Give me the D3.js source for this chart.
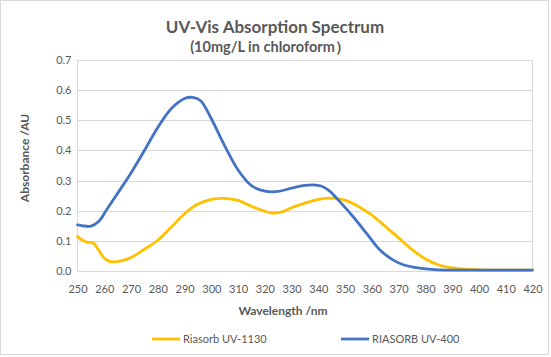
<!DOCTYPE html>
<html><head><meta charset="utf-8">
<script src="https://cdn.jsdelivr.net/npm/d3@7"></script>
<style>body{margin:0;background:#fff}svg{display:block}text{font-family:Lato,"Open Sans",sans-serif;fill:#595959}</style>
</head><body>
<script>
const title = "UV-Vis Absorption Spectrum";
const subtitle = "(10mg/L in chloroform）";
const xTitle = "Wavelength /nm";
const yTitle = "Absorbance /AU";
const xTicks = [250,260,270,280,290,300,310,320,330,340,350,360,370,380,390,400,410,420];
const yTicks = [0,0.1,0.2,0.3,0.4,0.5,0.6,0.7];
const seriesNames = ["Riasorb UV-1130","RIASORB UV-400"];
const seriesColors = ["#FFC000","#4472C4"];

const wlUV1130 = [250,253,256,258,260,262,264,267,270,275,280,285,290,295,300,305,310,315,320,323,326,330,335,340,345,350,355,360,365,370,375,380,385,390,395,400,410,420];
const absUV1130 = [0.114,0.097,0.092,0.068,0.042,0.032,0.030,0.035,0.045,0.072,0.102,0.145,0.19,0.222,0.238,0.241,0.234,0.215,0.198,0.192,0.195,0.21,0.225,0.238,0.242,0.235,0.214,0.185,0.148,0.11,0.071,0.04,0.02,0.01,0.006,0.004,0.003,0.003];

const wlUV400 = [250,252,255,258,261,265,270,275,280,285,290,293,296,300,305,310,315,320,325,330,335,338,341,344,348,353,358,363,368,372,376,380,385,390,400,410,420];
const absUV400 = [0.153,0.150,0.149,0.165,0.205,0.258,0.325,0.40,0.476,0.538,0.572,0.576,0.565,0.505,0.415,0.335,0.283,0.265,0.264,0.275,0.284,0.286,0.282,0.267,0.23,0.18,0.125,0.07,0.036,0.02,0.012,0.007,0.004,0.003,0.003,0.003,0.003];

const W = 551, H = 357;
const svg = d3.select("body").append("svg").attr("width", W).attr("height", H);
svg.append("rect").attr("x",0.5).attr("y",0.5).attr("width",W-3).attr("height",H-3)
  .attr("fill","#fff").attr("stroke","#d9d9d9");

const x = d3.scaleLinear().domain([250,420]).range([77.5,532.5]);
const y = d3.scaleLinear().domain([0,0.7]).range([271,60]);

// gridlines
svg.append("g").selectAll("line").data(yTicks).join("line")
  .attr("x1",x(250)).attr("x2",x(420)).attr("y1",d=>Math.round(y(d))+0.5).attr("y2",d=>Math.round(y(d))+0.5)
  .attr("stroke","#d9d9d9").attr("stroke-width",1);
svg.append("line").attr("x1",x(250)).attr("x2",x(250)).attr("y1",y(0.7)).attr("y2",y(0)+0.5).attr("stroke","#d9d9d9");
svg.append("line").attr("x1",x(420)).attr("x2",x(420)).attr("y1",y(0.7)).attr("y2",y(0)+0.5).attr("stroke","#d9d9d9");

// axes
const xAxis = svg.append("g").attr("transform",`translate(0,${y(0)+14})`)
  .call(d3.axisBottom(x).tickValues(xTicks).tickSize(0).tickPadding(0));
xAxis.select(".domain").remove();
xAxis.selectAll("text").attr("font-size","11px").attr("fill","#595959").style("font-family","Lato");
const yAxis = svg.append("g").attr("transform",`translate(${x(250)-6},0)`)
  .call(d3.axisLeft(y).tickValues(yTicks).tickFormat(d3.format(".1f")).tickSize(0).tickPadding(0));
yAxis.select(".domain").remove();
yAxis.selectAll("text").attr("font-size","11px").attr("fill","#595959").style("font-family","Lato");

// lines
const line = d3.line().x(d=>x(d[0])).y(d=>y(d[1])).curve(d3.curveCatmullRom.alpha(0.5));
const data = [d3.zip(wlUV1130, absUV1130), d3.zip(wlUV400, absUV400)];
svg.append("g").selectAll("path").data(data).join("path")
  .attr("d", line).attr("fill","none")
  .attr("stroke",(d,i)=>seriesColors[i]).attr("stroke-width",2.8).attr("stroke-linejoin","round").attr("stroke-linecap","round");

// titles
svg.append("text").attr("x",275).attr("y",33).attr("text-anchor","middle")
  .attr("font-size","17px").attr("font-weight","bold").text(title);
svg.append("text").attr("x",270).attr("y",52).attr("text-anchor","middle")
  .attr("font-size","14.5px").attr("font-weight","bold").text(subtitle);
svg.append("text").attr("x",283).attr("y",315).attr("text-anchor","middle")
  .attr("font-size","12px").attr("font-weight","bold").text(xTitle);
svg.append("text").attr("transform","translate(29,158) rotate(-90)").attr("text-anchor","middle")
  .attr("font-size","12px").attr("font-weight","bold").text(yTitle);

// legend
const legX = [152, 341];
const leg = svg.append("g").selectAll("g").data(seriesNames).join("g")
  .attr("transform",(d,i)=>`translate(${legX[i]},339)`);
leg.append("line").attr("x1",0).attr("x2",28).attr("stroke",(d,i)=>seriesColors[i]).attr("stroke-width",2.8);
leg.append("text").attr("x",31).attr("y",4).attr("font-size","11px").text(d=>d);
</script>
</body></html>
